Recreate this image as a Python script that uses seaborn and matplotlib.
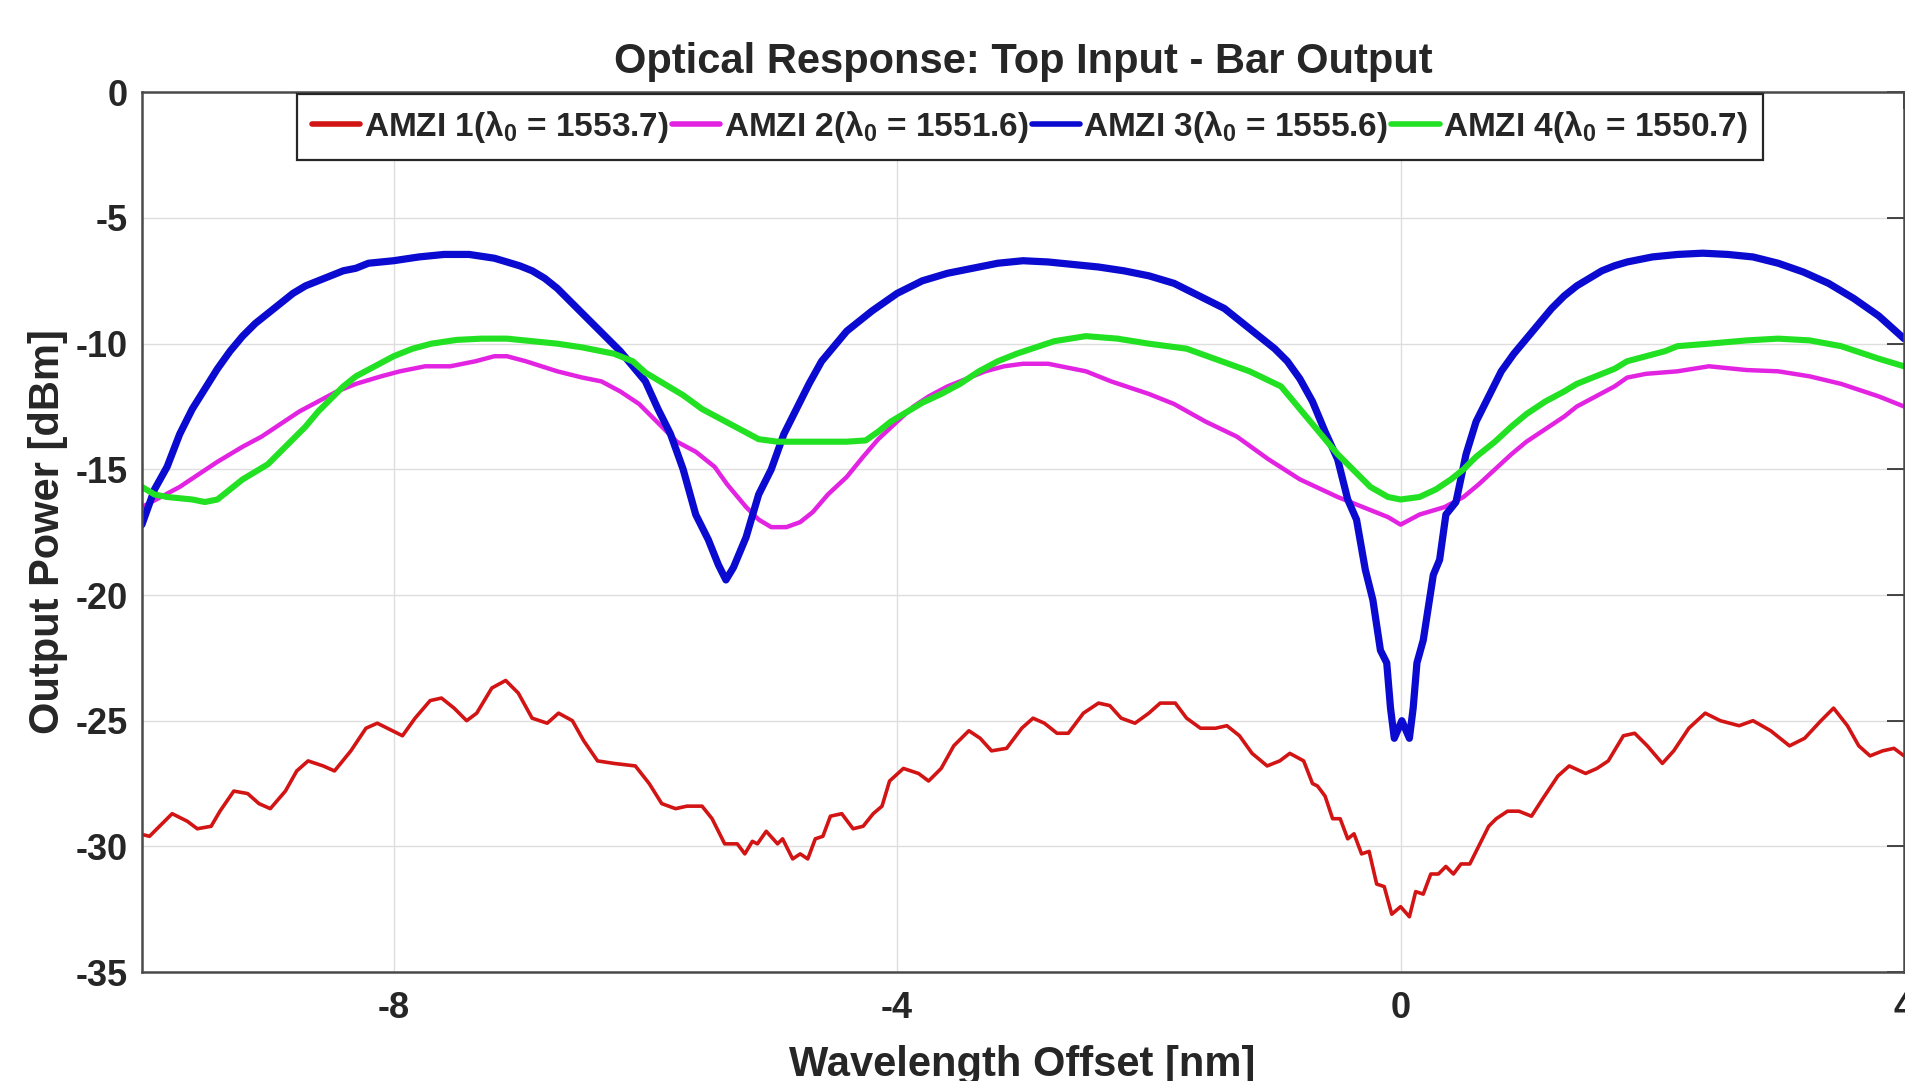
import pandas as pd
import seaborn as sns
import matplotlib.pyplot as plt

# ---- values (wavelength offset in nm, power in dBm) ----

# AMZI 1 (red)
amzi1_x = [-10.02, -9.94, -9.86, -9.76, -9.64, -9.56, -9.45, -9.38, -9.27, -9.16,
           -9.07, -8.98, -8.86, -8.77, -8.68, -8.56, -8.47, -8.34, -8.22, -8.13,
           -8.01, -7.93, -7.83, -7.71, -7.62, -7.52, -7.42, -7.34, -7.22, -7.11,
           -7.01, -6.90, -6.78, -6.69, -6.58, -6.49, -6.38, -6.25, -6.08, -5.97,
           -5.87, -5.76, -5.67, -5.55, -5.47, -5.37, -5.27, -5.21, -5.15, -5.11,
           -5.04, -4.95, -4.91, -4.83, -4.77, -4.71, -4.65, -4.59, -4.53, -4.44,
           -4.35, -4.27, -4.19, -4.12, -4.06, -3.95, -3.83, -3.75, -3.65, -3.55,
           -3.43, -3.34, -3.25, -3.13, -3.01, -2.92, -2.83, -2.73, -2.64, -2.52,
           -2.40, -2.31, -2.22, -2.11, -2.00, -1.91, -1.79, -1.70, -1.59, -1.47,
           -1.38, -1.28, -1.18, -1.06, -0.96, -0.88, -0.77, -0.70, -0.66, -0.60,
           -0.54, -0.48, -0.42, -0.37, -0.31, -0.25, -0.19, -0.13, -0.07, 0.00,
           0.07, 0.12, 0.18, 0.24, 0.30, 0.36, 0.42, 0.48, 0.55, 0.62,
           0.70, 0.76, 0.85, 0.94, 1.04, 1.13, 1.25, 1.34, 1.47, 1.56,
           1.65, 1.77, 1.86, 1.96, 2.08, 2.17, 2.29, 2.42, 2.54, 2.69,
           2.80, 2.94, 3.09, 3.21, 3.34, 3.44, 3.55, 3.64, 3.73, 3.83,
           3.92, 4.00]
amzi1_y = [-29.5, -29.6, -29.2, -28.7, -29.0, -29.3, -29.2, -28.6, -27.8, -27.9,
           -28.3, -28.5, -27.8, -27.0, -26.6, -26.8, -27.0, -26.2, -25.3, -25.1,
           -25.4, -25.6, -24.9, -24.2, -24.1, -24.5, -25.0, -24.7, -23.7, -23.4,
           -23.9, -24.9, -25.1, -24.7, -25.0, -25.8, -26.6, -26.7, -26.8, -27.5,
           -28.3, -28.5, -28.4, -28.4, -28.9, -29.9, -29.9, -30.3, -29.8, -29.9,
           -29.4, -29.9, -29.7, -30.5, -30.3, -30.5, -29.7, -29.6, -28.8, -28.7,
           -29.3, -29.2, -28.7, -28.4, -27.4, -26.9, -27.1, -27.4, -26.9, -26.0,
           -25.4, -25.7, -26.2, -26.1, -25.3, -24.9, -25.1, -25.5, -25.5, -24.7,
           -24.3, -24.4, -24.9, -25.1, -24.7, -24.3, -24.3, -24.9, -25.3, -25.3,
           -25.2, -25.6, -26.3, -26.8, -26.6, -26.3, -26.6, -27.5, -27.6, -28.0,
           -28.9, -28.9, -29.7, -29.5, -30.3, -30.2, -31.5, -31.6, -32.7, -32.4,
           -32.8, -31.8, -31.9, -31.1, -31.1, -30.8, -31.1, -30.7, -30.7, -30.0,
           -29.2, -28.9, -28.6, -28.6, -28.8, -28.1, -27.2, -26.8, -27.1, -26.9,
           -26.6, -25.6, -25.5, -26.0, -26.7, -26.2, -25.3, -24.7, -25.0, -25.2,
           -25.0, -25.4, -26.0, -25.7, -25.0, -24.5, -25.2, -26.0, -26.4, -26.2,
           -26.1, -26.4]

# AMZI 2 (magenta)
amzi2_x = [-10.0, -9.85, -9.7, -9.55, -9.4, -9.2, -9.05, -8.9, -8.75, -8.6,
           -8.45, -8.3, -8.1, -7.95, -7.75, -7.55, -7.35, -7.2, -7.1, -6.95,
           -6.7, -6.5, -6.35, -6.2, -6.05, -5.95, -5.85, -5.75, -5.6, -5.45,
           -5.35, -5.2, -5.1, -5.0, -4.88, -4.77, -4.67, -4.55, -4.4, -4.27,
           -4.15, -4.0, -3.87, -3.75, -3.6, -3.45, -3.3, -3.15, -3.0, -2.8,
           -2.5, -2.3, -2.0, -1.8, -1.55, -1.3, -1.05, -0.8, -0.5, -0.25,
           -0.1, 0.0, 0.15, 0.35, 0.5, 0.62, 0.75, 0.88, 1.0, 1.15,
           1.3, 1.4, 1.55, 1.7, 1.8, 1.95, 2.2, 2.45, 2.75, 3.0,
           3.25, 3.5, 3.8, 4.0]
amzi2_y = [-16.5, -16.1, -15.7, -15.2, -14.7, -14.1, -13.7, -13.2, -12.7, -12.3,
           -11.9, -11.6, -11.3, -11.1, -10.9, -10.9, -10.7, -10.5, -10.5, -10.7,
           -11.1, -11.35, -11.5, -11.9, -12.4, -12.9, -13.4, -13.9, -14.3, -14.9,
           -15.6, -16.5, -17.0, -17.3, -17.3, -17.1, -16.7, -16.0, -15.3, -14.5,
           -13.8, -13.1, -12.5, -12.1, -11.7, -11.4, -11.1, -10.9, -10.8, -10.8,
           -11.1, -11.5, -12.0, -12.4, -13.1, -13.7, -14.6, -15.4, -16.1, -16.6,
           -16.9, -17.2, -16.8, -16.5, -16.1, -15.6, -15.0, -14.4, -13.9, -13.4,
           -12.9, -12.5, -12.1, -11.7, -11.35, -11.2, -11.1, -10.9, -11.05, -11.1,
           -11.3, -11.6, -12.1, -12.5]

# AMZI 3 (blue)
amzi3_x = [-10.0, -9.9, -9.8, -9.7, -9.6, -9.5, -9.4, -9.3, -9.2, -9.1,
           -9.0, -8.9, -8.8, -8.7, -8.6, -8.5, -8.4, -8.3, -8.2, -8.0,
           -7.8, -7.6, -7.4, -7.2, -7.0, -6.9, -6.8, -6.7, -6.6, -6.5,
           -6.4, -6.3, -6.2, -6.1, -6.0, -5.9, -5.8, -5.7, -5.6, -5.5,
           -5.42, -5.36, -5.3, -5.2, -5.1, -5.0, -4.9, -4.8, -4.7, -4.6,
           -4.5, -4.4, -4.3, -4.2, -4.0, -3.8, -3.6, -3.4, -3.2, -3.0,
           -2.8, -2.6, -2.4, -2.2, -2.0, -1.8, -1.6, -1.4, -1.2, -1.0,
           -0.9, -0.8, -0.7, -0.6, -0.5, -0.42, -0.35, -0.28, -0.22, -0.16,
           -0.11, -0.08, -0.05, 0.01, 0.07, 0.10, 0.13, 0.18, 0.22, 0.26,
           0.31, 0.36, 0.44, 0.52, 0.6, 0.7, 0.8, 0.9, 1.0, 1.1,
           1.2, 1.3, 1.4, 1.5, 1.6, 1.7, 1.8, 2.0, 2.2, 2.4,
           2.6, 2.8, 3.0, 3.2, 3.4, 3.6, 3.8, 4.0]
amzi3_y = [-17.2, -15.8, -14.9, -13.6, -12.6, -11.8, -11.0, -10.3, -9.7, -9.2,
           -8.8, -8.4, -8.0, -7.7, -7.5, -7.3, -7.1, -7.0, -6.8, -6.7,
           -6.55, -6.45, -6.45, -6.6, -6.9, -7.1, -7.4, -7.8, -8.3, -8.8,
           -9.3, -9.8, -10.3, -10.9, -11.5, -12.6, -13.6, -15.0, -16.8, -17.8,
           -18.8, -19.4, -18.9, -17.7, -16.0, -15.0, -13.6, -12.6, -11.6, -10.7,
           -10.1, -9.5, -9.1, -8.7, -8.0, -7.5, -7.2, -7.0, -6.8, -6.7,
           -6.75, -6.85, -6.95, -7.1, -7.3, -7.6, -8.1, -8.6, -9.4, -10.2,
           -10.7, -11.4, -12.3, -13.5, -14.6, -16.2, -17.0, -19.0, -20.2, -22.2,
           -22.7, -24.5, -25.7, -25.0, -25.7, -24.5, -22.7, -21.8, -20.5, -19.2,
           -18.6, -16.8, -16.3, -14.4, -13.1, -12.1, -11.1, -10.4, -9.8, -9.2,
           -8.6, -8.1, -7.7, -7.4, -7.1, -6.9, -6.75, -6.55, -6.45, -6.4,
           -6.45, -6.55, -6.8, -7.15, -7.6, -8.2, -8.9, -9.8]

# AMZI 4 (green)
amzi4_x = [-10.0, -9.9, -9.8, -9.6, -9.5, -9.4, -9.3, -9.2, -9.1, -9.0,
           -8.9, -8.8, -8.7, -8.6, -8.5, -8.4, -8.3, -8.15, -8.0, -7.85,
           -7.7, -7.5, -7.3, -7.1, -6.9, -6.7, -6.5, -6.35, -6.25, -6.1,
           -6.0, -5.85, -5.7, -5.55, -5.4, -5.25, -5.1, -4.95, -4.8, -4.6,
           -4.4, -4.25, -4.15, -4.05, -3.95, -3.8, -3.65, -3.5, -3.35, -3.2,
           -3.05, -2.9, -2.75, -2.5, -2.25, -2.0, -1.7, -1.45, -1.2, -0.95,
           -0.8, -0.65, -0.5, -0.38, -0.24, -0.1, 0.0, 0.15, 0.28, 0.4,
           0.5, 0.6, 0.75, 0.88, 1.0, 1.15, 1.3, 1.4, 1.55, 1.7,
           1.8, 1.95, 2.1, 2.2, 2.45, 2.75, 3.0, 3.25, 3.5, 3.8,
           4.0]
amzi4_y = [-15.7, -16.0, -16.1, -16.2, -16.3, -16.2, -15.8, -15.4, -15.1, -14.8,
           -14.3, -13.8, -13.3, -12.7, -12.2, -11.7, -11.3, -10.9, -10.5, -10.2,
           -10.0, -9.85, -9.8, -9.8, -9.9, -10.0, -10.15, -10.3, -10.4, -10.7,
           -11.15, -11.6, -12.05, -12.6, -13.0, -13.4, -13.8, -13.9, -13.9, -13.9,
           -13.9, -13.85, -13.5, -13.1, -12.8, -12.35, -12.0, -11.6, -11.1, -10.7,
           -10.4, -10.15, -9.9, -9.7, -9.8, -10.0, -10.2, -10.65, -11.1, -11.7,
           -12.6, -13.5, -14.4, -15.0, -15.7, -16.1, -16.2, -16.1, -15.8, -15.4,
           -15.0, -14.5, -13.9, -13.3, -12.8, -12.3, -11.9, -11.6, -11.3, -11.0,
           -10.7, -10.5, -10.3, -10.1, -10.0, -9.87, -9.8, -9.87, -10.1, -10.6,
           -10.9]

device_names = ["AMZI 1", "AMZI 2", "AMZI 3", "AMZI 4"]
center_wl = ["1553.7", "1551.6", "1555.6", "1550.7"]
x_ticks = [-8, -4, 0, 4]
y_ticks = [0, -5, -10, -15, -20, -25, -30, -35]

# ---- build one long table ----
frames = []
for name, xs, ys in zip(device_names,
                        [amzi1_x, amzi2_x, amzi3_x, amzi4_x],
                        [amzi1_y, amzi2_y, amzi3_y, amzi4_y]):
    frames.append(pd.DataFrame({"offset": xs, "power": ys, "device": name}))
df = pd.concat(frames, ignore_index=True)

colors = {"AMZI 1": "#d21414", "AMZI 2": "#e224e2", "AMZI 3": "#0a0ad0", "AMZI 4": "#22e022"}
widths = {"AMZI 1": 2.6, "AMZI 2": 3.2, "AMZI 3": 5.2, "AMZI 4": 4.4}

sns.set_style("white")
# Arial-like bold text everywhere (set after seaborn, which resets the family)
plt.rcParams["font.family"] = ["Liberation Sans", "DejaVu Sans"]
plt.rcParams["font.weight"] = "bold"
plt.rcParams["mathtext.fontset"] = "custom"
plt.rcParams["mathtext.rm"] = "Liberation Sans:bold"
plt.rcParams["mathtext.it"] = "Liberation Sans:bold"
plt.rcParams["mathtext.bf"] = "Liberation Sans:bold"
plt.rcParams["mathtext.default"] = "bf"

fig = plt.figure(figsize=(19.05, 10.81), dpi=100)
ax = fig.add_axes([0.0745, 0.1008, 0.9250, 0.8138])

for name, wl in zip(device_names, center_wl):
    sub = df[df["device"] == name]
    sns.lineplot(data=sub, x="offset", y="power", ax=ax, color=colors[name],
                 linewidth=widths[name], estimator=None, sort=False,
                 label=name + r"($\lambda_0$ = " + wl + ")")

ax.set_xlim(-10, 4)
ax.set_ylim(-35, 0)
ax.set_xticks(x_ticks)
ax.set_yticks(y_ticks)
ax.set_xticklabels([str(t) for t in x_ticks])
ax.set_yticklabels([str(t) for t in y_ticks])
ax.grid(True, color="#dedede", linewidth=1.0)
ax.tick_params(axis="both", direction="in", length=12, width=1.2, colors="#262626",
               labelsize=26, top=True, right=True)
ax.tick_params(axis="x", pad=14)
ax.tick_params(axis="y", pad=10)
for lab in ax.get_xticklabels() + ax.get_yticklabels():
    lab.set_fontweight("bold")
for sp in ax.spines.values():
    sp.set_color("#4a4a4a")
    sp.set_linewidth(1.8)

ax.set_xlabel("Wavelength Offset [nm]", fontsize=30, fontweight="bold", va="center")
ax.set_ylabel("Output Power [dBm]", fontsize=30, fontweight="bold", va="center")
ax.xaxis.set_label_coords(0.4997, -0.1055)
ax.yaxis.set_label_coords(-0.0533, 0.501)
ax.set_title("Optical Response: Top Input - Bar Output", fontsize=30, fontweight="bold",
             y=1.034, va="center", pad=0)

leg = ax.legend(loc="upper center", bbox_to_anchor=(0.504, 1.0), ncol=4, fontsize=24,
                frameon=True, fancybox=False, framealpha=1, edgecolor="#262626",
                handlelength=1.45, handletextpad=0.1, columnspacing=0.1,
                borderpad=0.45, borderaxespad=0.05)
leg.get_frame().set_linewidth(1.6)
for line in leg.get_lines():
    line.set_linewidth(4)

plt.savefig("out.png", dpi=100)
plt.close()
